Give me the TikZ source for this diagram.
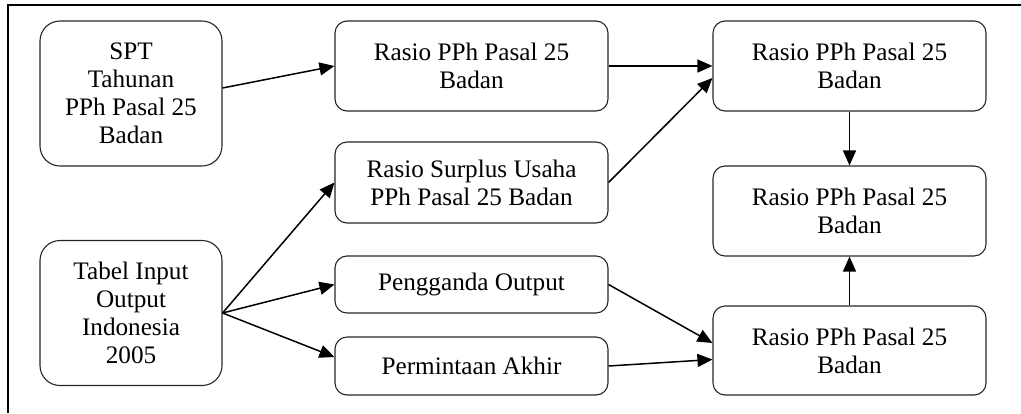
\documentclass[tikz,border=0pt]{standalone}
\usepackage{fontspec}
\setmainfont{Liberation Serif}
\usetikzlibrary{arrows.meta}

\begin{document}
\begin{tikzpicture}[x=0.5pt,y=-0.5pt,
  >={Triangle[length=7.5pt,width=6.5pt]},
  kotak/.style={draw=black!85,line width=0.55pt,rounded corners=6pt,align=center,
    inner sep=0pt,minimum width=136.5pt,font=\fontsize{12.6}{14}\selectfont},
  kotakkiri/.style={kotak,rounded corners=10pt,minimum width=91pt,minimum height=72.5pt},
  panah/.style={->,line width=0.75pt}]
  \useasboundingbox (0,0) rectangle (1021,413);
  \draw[line width=1pt] (1021,5) -- (8,5) -- (8,413);

  \node[kotakkiri] (spt) at (131,93.5) {SPT\\Tahunan\\PPh Pasal 25\\Badan};
  \node[kotakkiri] (tabel) at (131,313) {Tabel Input\\Output\\Indonesia\\2005};

  \node[kotak,minimum height=45pt] (rasio) at (471.5,66) {Rasio PPh Pasal 25\\Badan};
  \node[kotak,minimum height=40.5pt] (surplus) at (471.5,182.5) {Rasio Surplus Usaha\\PPh Pasal 25 Badan};
  \node[kotak,minimum height=28.5pt] (pengganda) at (471.5,284.5) {Pengganda Output};
  \node[kotak,minimum height=29pt] (permintaan) at (471.5,366) {Permintaan Akhir};

  \node[kotak,minimum height=45pt] (hasilA) at (849.5,66) {Rasio PPh Pasal 25\\Badan};
  \node[kotak,minimum height=45pt] (hasilB) at (849.5,211) {Rasio PPh Pasal 25\\Badan};
  \node[kotak,minimum height=44.5pt] (hasilC) at (849.5,350.5) {Rasio PPh Pasal 25\\Badan};

  \draw[panah] ([yshift=2.75pt]spt.east) -- (rasio.west);
  \draw[panah] (rasio.east) -- (hasilA.west);
  \draw[panah] (surplus.east) -- ([yshift=-6pt]hasilA.west);

  \draw[panah] (tabel.east) -- (surplus.west);
  \draw[panah] (tabel.east) -- (pengganda.west);
  \draw[panah] (tabel.east) -- ([yshift=4.5pt]permintaan.west);

  \draw[panah] (pengganda.east) -- ([yshift=3.75pt]hasilC.west);
  \draw[panah] (permintaan.east) -- ([yshift=-4.5pt]hasilC.west);

  \draw[panah] (hasilA.south) -- (hasilB.north);
  \draw[panah] (hasilC.north) -- (hasilB.south);
\end{tikzpicture}
\end{document}
